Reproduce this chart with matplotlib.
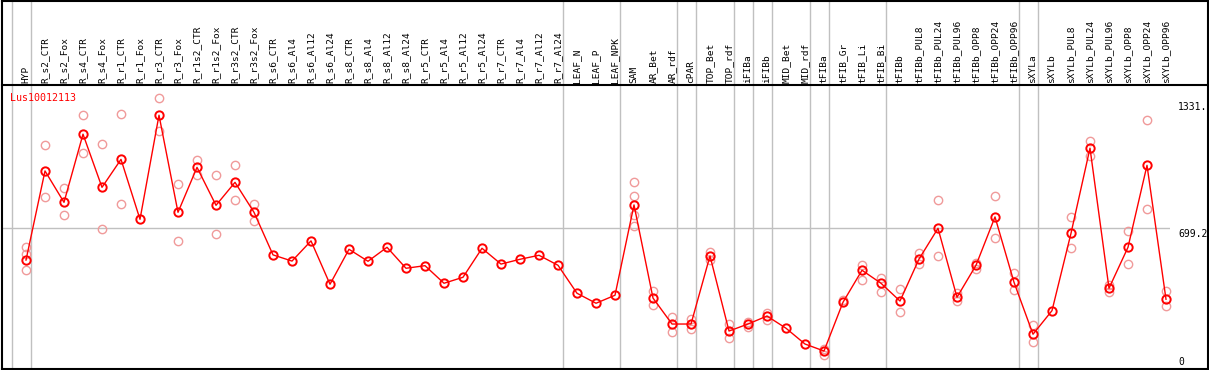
import numpy as np
import matplotlib
matplotlib.use('Agg')
import matplotlib.pyplot as plt

# category names (x axis, written vertically in the header)
samples = ['HYP',
           'R_s2_CTR', 'R_s2_Fox', 'R_s4_CTR', 'R_s4_Fox', 'R_r1_CTR', 'R_r1_Fox',
           'R_r3_CTR', 'R_r3_Fox', 'R_r1s2_CTR', 'R_r1s2_Fox', 'R_r3s2_CTR', 'R_r3s2_Fox',
           'R_s6_CTR', 'R_s6_Al4', 'R_s6_Al12', 'R_s6_Al24',
           'R_s8_CTR', 'R_s8_Al4', 'R_s8_Al12', 'R_s8_Al24',
           'R_r5_CTR', 'R_r5_Al4', 'R_r5_Al12', 'R_r5_Al24',
           'R_r7_CTR', 'R_r7_Al4', 'R_r7_Al12', 'R_r7_Al24',
           'LEAF_N', 'LEAF_P', 'LEAF_NPK', 'SAM', 'AR_Bet', 'AR_rdf', 'cPAR',
           'TOP_Bet', 'TOP_rdf', 'iFIBa', 'iFIBb', 'MID_Bet', 'MID_rdf', 'tFIBa',
           'tFIB_Gr', 'tFIB_Li', 'tFIB_Bi', 'tFIBb',
           'tFIBb_PUL8', 'tFIBb_PUL24', 'tFIBb_PUL96', 'tFIBb_OPP8', 'tFIBb_OPP24', 'tFIBb_OPP96',
           'sXYLa', 'sXYLb',
           'sXYLb_PUL8', 'sXYLb_PUL24', 'sXYLb_PUL96', 'sXYLb_OPP8', 'sXYLb_OPP24', 'sXYLb_OPP96']

# mean expression per sample
means = [537, 983, 826, 1167, 901, 1041, 741, 1262, 776, 1001, 811, 926, 776,
         563, 532, 633, 416, 591, 531, 601, 496, 509, 421, 451, 596,
         517, 541, 561, 511, 371, 321, 361, 813, 347, 217, 217,
         558, 182, 217, 257, 196, 117, 82, 326, 486, 421, 332,
         542, 696, 351, 511, 753, 426, 166, 284,
         671, 1097, 396, 601, 1011, 341]

# individual replicate values per sample
replicates = [[604, 568, 486], [1112, 851], [896, 761], [1263, 1072], [1118, 691],
              [1268, 816], [], [1347, 1182], [916, 631], [1038, 964], [961, 666],
              [1011, 836], [818, 731],
              [], [], [], [], [], [], [], [], [], [], [], [], [], [], [], [],
              [], [], [], [926, 858, 762, 706], [382, 311], [254, 177], [241, 191],
              [576, 537], [217, 146], [204, 229], [271, 239], [], [], [62, 92],
              [337], [514, 437], [446, 379], [391, 276],
              [571, 517], [836, 556], [374, 331], [524, 494], [856, 646], [472, 386],
              [211, 129], [],
              [751, 598], [1133, 1057], [414, 377], [681, 517], [1237, 791], [381, 307]]

# group separators sit right after these sample indices
group_ends = [-1, 0, 28, 31, 34, 35, 37, 38, 39, 41, 42, 45, 52, 53, 60]

gene = 'Lus10012113'
tick_values = [1331, 699.2, 0]
tick_labels = ['1331.', '699.2', '0']

W, H = 1209, 370
fig = plt.figure(figsize=(W / 100, H / 100), dpi=100)


def px_axes(l, t, r, b, **kw):
    return fig.add_axes([l / W, 1 - b / H, (r - l) / W, (b - t) / H], **kw)


x = np.arange(len(samples))
xlim = ((2 - 26) / 19, (1170 - 26) / 19)

ax = px_axes(2, 85, 1170, 369)
hx = px_axes(2, 0, 1170, 85)
for a in (ax, hx):
    a.set_xlim(xlim)
    a.axis('off')
ax.set_ylim(-8, 1413)
hx.set_ylim(0, 1)

# group separators and the reference grid line
for g in group_ends:
    for a in (ax, hx):
        a.axvline(g + 0.24, color='#c0c0c0', lw=1, zorder=0)
ax.axhline(699.2, color='#c0c0c0', lw=1, zorder=0)

# replicates
xr = [i for i, r in enumerate(replicates) for _ in r]
vr = [v for r in replicates for v in r]
ax.plot(xr, vr, 'o', ls='none', mfc='none', mec='#f09a9a', ms=6, mew=1.0,
        zorder=2, clip_on=False)

# means
ax.plot(x, means, '-o', color='red', mfc='none', mec='red', ms=6, mew=1.4,
        lw=1, zorder=3, clip_on=False)

# sample labels in the header
for i, s in enumerate(samples):
    hx.text(i, 0.025, s, rotation=90, ha='center', va='bottom',
            family='DejaVu Sans Mono', fontsize=6.8, color='black')

ax.text(0.007, 0.955, gene, transform=ax.transAxes, ha='left', va='center',
        family='DejaVu Sans Mono', fontsize=7.2, color='red')

# value labels on the right
for v, lab in zip(tick_values, tick_labels):
    if v == 0:
        fig.text(1178 / W, 1 - 367 / H, lab, ha='left', va='bottom',
                 family='DejaVu Sans Mono', fontsize=7)
    else:
        yv = ax.transData.transform((0, v))[1] / H
        fig.text(1178 / W, yv - 1 / H, lab, ha='left', va='top',
                 family='DejaVu Sans Mono', fontsize=7)

# outer frame and header separator
bg = fig.add_axes([0, 0, 1, 1], zorder=5)
bg.set_xlim(0, W)
bg.set_ylim(H, 0)
bg.axis('off')
bg.patch.set_alpha(0)
bg.plot([1.5, 1.5], [0, 369], color='black', lw=1.5)
bg.plot([1208, 1208], [0, 369], color='black', lw=1.5)
bg.plot([1.5, 1208], [0.5, 0.5], color='black', lw=1.5)
bg.plot([1.5, 1208], [369, 369], color='black', lw=1.5)
bg.plot([1.5, 1208], [85, 85], color='black', lw=1.5)

fig.savefig('out.png', dpi=100)
